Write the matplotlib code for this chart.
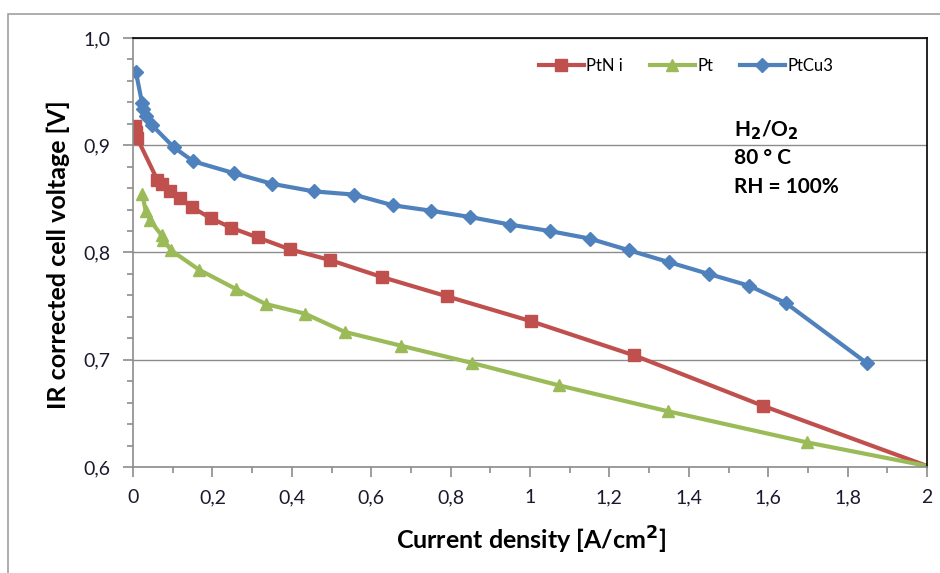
import matplotlib.pyplot as plt
from matplotlib.ticker import MultipleLocator, FuncFormatter
from matplotlib.patches import Rectangle

plt.rcParams['font.family'] = ['Lato', 'DejaVu Sans']

# PtNi (red squares)
ptni_x = [0.005, 0.008, 0.010, 0.061, 0.072, 0.093, 0.118, 0.149, 0.196, 0.248,
          0.314, 0.395, 0.496, 0.628, 0.792, 1.002, 1.263, 1.587, 2.0]
ptni_y = [0.918, 0.912, 0.907, 0.868, 0.864, 0.857, 0.851, 0.842, 0.832, 0.823,
          0.814, 0.803, 0.793, 0.777, 0.759, 0.736, 0.704, 0.657, 0.601]

# Pt (green triangles)
pt_x = [0.023, 0.032, 0.043, 0.072, 0.076, 0.096, 0.166, 0.259, 0.334, 0.433,
        0.533, 0.676, 0.854, 1.074, 1.347, 1.697, 2.0]
pt_y = [0.855, 0.839, 0.830, 0.816, 0.812, 0.802, 0.784, 0.766, 0.752, 0.743,
        0.726, 0.713, 0.697, 0.676, 0.652, 0.623, 0.601]

# PtCu3 (blue diamonds)
ptcu3_x = [0.0075, 0.023, 0.026, 0.032, 0.047, 0.103, 0.152, 0.254, 0.351, 0.455,
           0.556, 0.655, 0.75, 0.85, 0.95, 1.05, 1.15, 1.25, 1.35, 1.45,
           1.552, 1.644, 1.848]
ptcu3_y = [0.968, 0.939, 0.934, 0.927, 0.919, 0.898, 0.885, 0.874, 0.864, 0.857,
           0.854, 0.844, 0.839, 0.833, 0.826, 0.820, 0.813, 0.802, 0.791, 0.780,
           0.769, 0.753, 0.697]

red = '#C0504D'
green = '#9BBB59'
blue = '#4F81BD'

fig = plt.figure(figsize=(9.4, 5.73), dpi=100)
fig.patches.append(Rectangle((8 / 940, -0.1), 1.2, 1 - 14 / 573 + 0.1,
                             transform=fig.transFigure, fill=False,
                             edgecolor='#A0A0A0', linewidth=1.2))
ax = fig.add_axes([133 / 940, 1 - 467 / 573, (927 - 133) / 940, (467 - 38) / 573])

ax.plot(ptni_x, ptni_y, color=red, lw=3, marker='s', ms=9,
        markevery=list(range(len(ptni_x) - 1)), label='PtN i')
ax.plot(pt_x, pt_y, color=green, lw=3, marker='^', ms=9,
        markevery=list(range(len(pt_x) - 1)), label='Pt')
ax.plot(ptcu3_x, ptcu3_y, color=blue, lw=3, marker='D', ms=7, label='PtCu3')

ax.set_xlim(0, 2)
ax.set_ylim(0.6, 1.0)
ax.xaxis.set_major_locator(MultipleLocator(0.2))
ax.xaxis.set_minor_locator(MultipleLocator(0.1))
ax.yaxis.set_major_locator(MultipleLocator(0.1))
ax.yaxis.set_minor_locator(MultipleLocator(0.02))

def xfmt(v, pos):
    s = ('%.1f' % v).replace('.', ',')
    if s.endswith(',0'):
        s = s[:-2]
    return s

ax.xaxis.set_major_formatter(FuncFormatter(xfmt))
ax.yaxis.set_major_formatter(FuncFormatter(lambda v, p: ('%.1f' % v).replace('.', ',')))

ax.grid(axis='y', which='major', color='#8C8C8C', lw=1)
ax.set_axisbelow(True)
for s in ['top', 'right']:
    ax.spines[s].set_color('black')
    ax.spines[s].set_linewidth(1.2)
for s in ['left', 'bottom']:
    ax.spines[s].set_color('#8C8C8C')
    ax.spines[s].set_linewidth(1.2)
ax.tick_params(which='both', direction='out', color='#8C8C8C', width=1.2)
ax.tick_params(which='major', length=7, labelsize=14, labelcolor='#1a1a2e')
ax.tick_params(axis='x', which='major', pad=9)
ax.tick_params(axis='y', which='major', pad=9)
ax.tick_params(which='minor', length=4)

ax.set_xlabel('Current density [A/cm$^\\mathbf{2}$]', fontsize=18, fontweight='bold')
ax.set_ylabel('IR corrected cell voltage [V]', fontsize=18, fontweight='bold')
ax.xaxis.set_label_coords(0.501, -0.170)
ax.xaxis.label.set_va('center')
ax.yaxis.set_label_coords(-0.0945, 0.494)
ax.yaxis.label.set_va('center')

ax.legend(loc='center left', bbox_to_anchor=(0.511, 0.935), ncol=3, frameon=False,
          fontsize=12, handlelength=2.7, columnspacing=1.6, handletextpad=0.15,
          borderaxespad=0, borderpad=0)

ax.text(0.757, 0.786, 'H$_\\mathbf{2}$/O$_\\mathbf{2}$', transform=ax.transAxes,
        fontsize=15, fontweight='bold', va='center')
ax.text(0.757, 0.720, '80 ° C', transform=ax.transAxes, fontsize=15,
        fontweight='bold', va='center')
ax.text(0.757, 0.653, 'RH = 100%', transform=ax.transAxes, fontsize=15,
        fontweight='bold', va='center')

plt.savefig('out.png', dpi=100)
